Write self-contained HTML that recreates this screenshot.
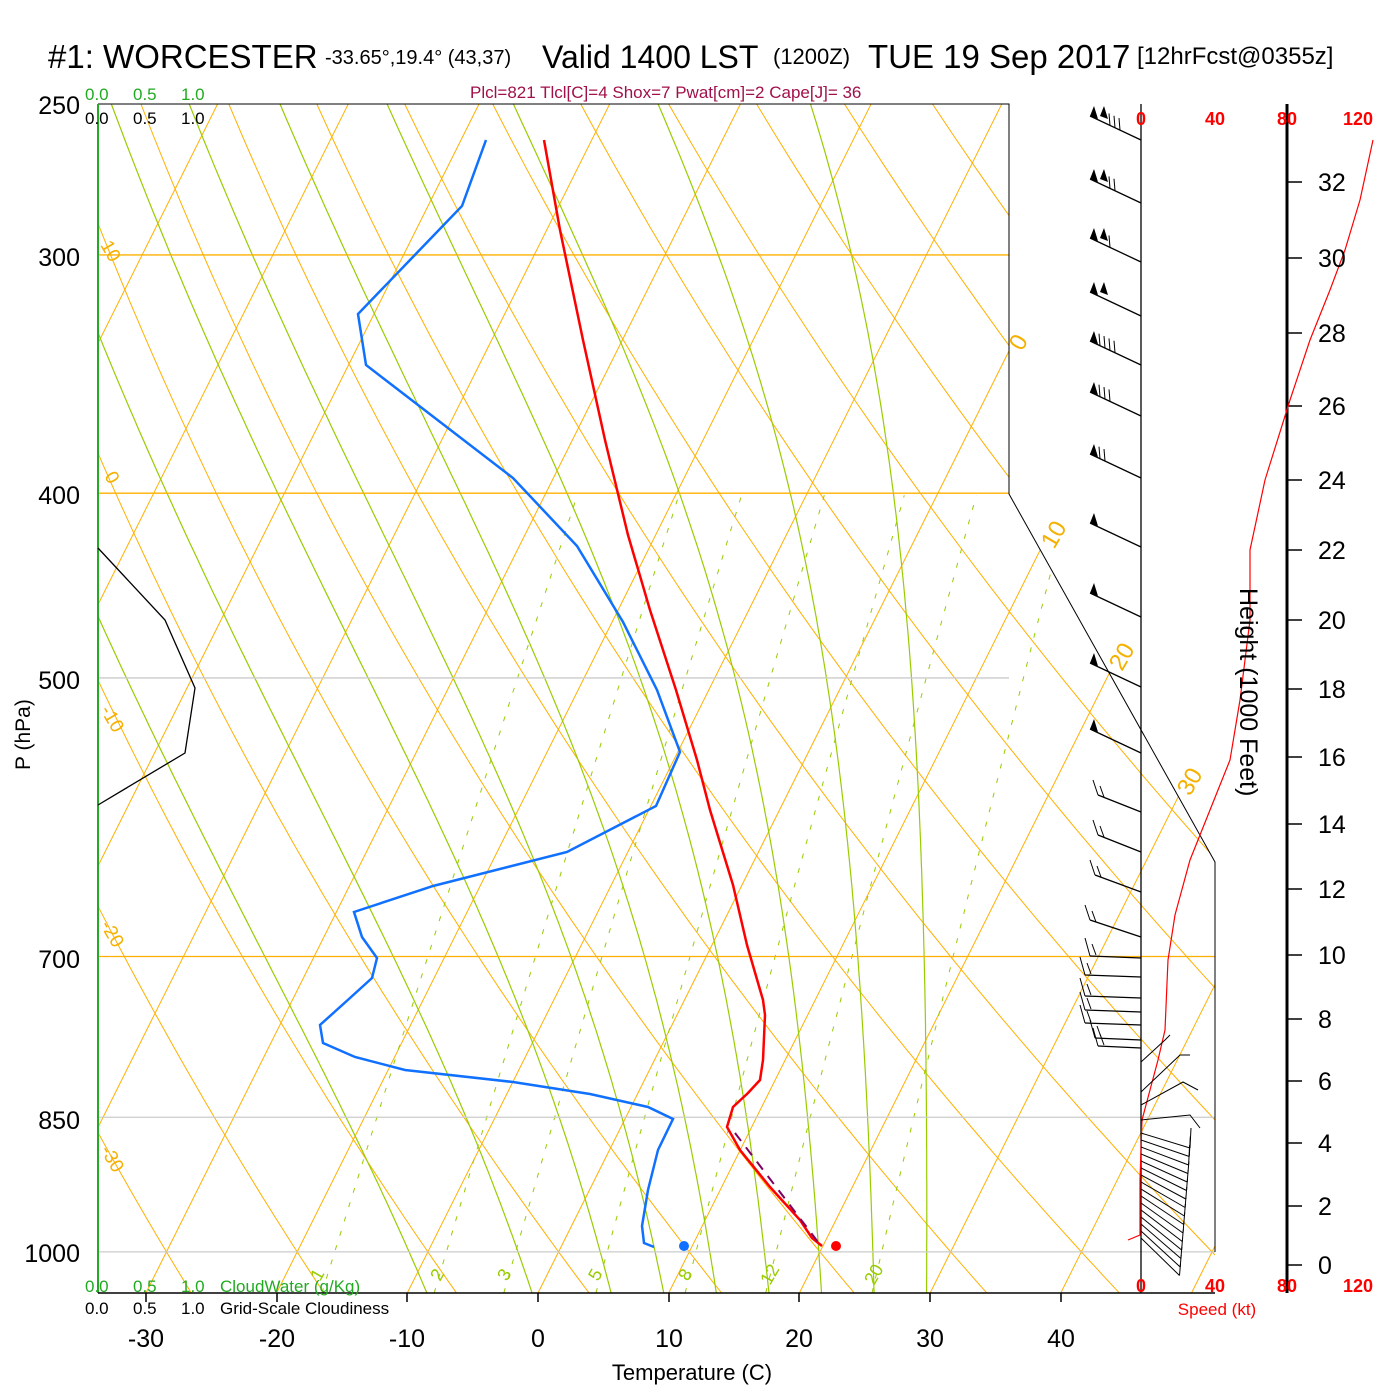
<!DOCTYPE html>
<html><head><meta charset="utf-8"><style>
html,body{margin:0;padding:0;background:#fff;}
svg{display:block;font-family:"Liberation Sans",sans-serif;}
</style></head><body>
<svg id="s" width="1400" height="1400" viewBox="0 0 1400 1400" xmlns="http://www.w3.org/2000/svg">
<defs><clipPath id="cp"><polygon points="98,104 1009,104 1009,494 1215,862 1215,1293 98,1293"/></clipPath></defs>
<g id="bg" clip-path="url(#cp)"></g>
<g id="fg"></g>
<text x="48" y="68" font-size="33">#1: WORCESTER</text>
<text x="325" y="64" font-size="20">-33.65°,19.4° (43,37)</text>
<text x="542" y="68" font-size="32">Valid 1400 LST</text>
<text x="773" y="64" font-size="22">(1200Z)</text>
<text x="868" y="68" font-size="33">TUE 19 Sep 2017</text>
<text x="1137" y="64" font-size="24">[12hrFcst@0355z]</text>
<text x="470" y="98" font-size="17" fill="#a0104a">Plcl=821 Tlcl[C]=4 Shox=7 Pwat[cm]=2 Cape[J]= 36</text>
<g font-size="17" fill="#22aa22"><text x="85" y="100">0.0</text><text x="133" y="100">0.5</text><text x="181" y="100">1.0</text>
<text x="85" y="1292">0.0</text><text x="133" y="1292">0.5</text><text x="181" y="1292">1.0</text><text x="220" y="1292">CloudWater (g/Kg)</text></g>
<g font-size="17"><text x="85" y="124">0.0</text><text x="133" y="124">0.5</text><text x="181" y="124">1.0</text>
<text x="85" y="1314">0.0</text><text x="133" y="1314">0.5</text><text x="181" y="1314">1.0</text><text x="220" y="1314">Grid-Scale Cloudiness</text></g>
<g font-size="25" text-anchor="end"><text x="80" y="114">250</text><text x="80" y="266">300</text><text x="80" y="504">400</text><text x="80" y="689">500</text><text x="80" y="968">700</text><text x="80" y="1129">850</text><text x="80" y="1262">1000</text></g>
<text transform="translate(30,770) rotate(-90)" font-size="21">P (hPa)</text>
<g font-size="25" text-anchor="middle"><text x="146" y="1347">-30</text><text x="277" y="1347">-20</text><text x="407" y="1347">-10</text><text x="538" y="1347">0</text><text x="669" y="1347">10</text><text x="799" y="1347">20</text><text x="930" y="1347">30</text><text x="1061" y="1347">40</text></g>
<text x="692" y="1380" font-size="22" text-anchor="middle">Temperature (C)</text>
<g font-size="18" fill="#f00" text-anchor="middle" font-weight="bold"><text x="1141" y="125">0</text><text x="1215" y="125">40</text><text x="1287" y="125">80</text><text x="1358" y="125">120</text>
<text x="1141" y="1292">0</text><text x="1215" y="1292">40</text><text x="1287" y="1292">80</text><text x="1358" y="1292">120</text></g>
<text x="1217" y="1315" font-size="17" fill="#f00" text-anchor="middle">Speed (kt)</text>
<g font-size="25"><text x="1318" y="191">32</text><text x="1318" y="267">30</text><text x="1318" y="342">28</text><text x="1318" y="415">26</text><text x="1318" y="489">24</text><text x="1318" y="559">22</text><text x="1318" y="629">20</text><text x="1318" y="698">18</text><text x="1318" y="766">16</text><text x="1318" y="833">14</text><text x="1318" y="898">12</text><text x="1318" y="964">10</text><text x="1318" y="1028">8</text><text x="1318" y="1090">6</text><text x="1318" y="1152">4</text><text x="1318" y="1215">2</text><text x="1318" y="1274">0</text></g>
<text transform="translate(1240,588) rotate(90)" font-size="25">Height (1000 Feet)</text>
<g font-size="24" fill="#f5b000"><text transform="translate(1022,352) rotate(-60)">0</text><text transform="translate(1054,550) rotate(-60)">10</text><text transform="translate(1122,672) rotate(-60)">20</text><text transform="translate(1190,797) rotate(-60)">30</text></g>
<g font-size="19" fill="#f5b000"><text transform="translate(100,245) rotate(60)">10</text><text transform="translate(104,476) rotate(60)">0</text><text transform="translate(100,710) rotate(60)">-10</text><text transform="translate(100,925) rotate(60)">-20</text><text transform="translate(100,1150) rotate(60)">-30</text></g>
<g font-size="18" fill="#99cc00"><text transform="translate(320,1282) rotate(-60)">1</text><text transform="translate(440,1282) rotate(-60)">2</text><text transform="translate(507,1282) rotate(-60)">3</text><text transform="translate(598,1282) rotate(-60)">5</text><text transform="translate(688,1282) rotate(-60)">8</text><text transform="translate(770,1286) rotate(-60)">12</text><text transform="translate(874,1286) rotate(-60)">20</text></g>
</svg>
<script>
var NS="http://www.w3.org/2000/svg";
function el(g,t,a){var e=document.createElementNS(NS,t);for(var k in a)e.setAttribute(k,a[k]);document.getElementById(g).appendChild(e);return e;}
function Y(p){return 104+828*Math.log(p/250);}
function X(T,p){return 538+13.07*T+0.5*(1293-Y(p));}
function path(g,pts,st){var d="M"+pts.map(function(q){return q[0].toFixed(1)+","+q[1].toFixed(1)}).join("L");st.d=d;st.fill="none";return el(g,"path",st);}
var OR="#ffb000",GR="#99cc00";
for(var T=-140;T<=60;T+=10){path("bg",[[X(T,1051),1293],[X(T,200),Y(200)]],{stroke:OR,"stroke-width":1});}
for(var th=-40;th<=200;th+=10){var pts=[];for(var p=1060;p>=240;p-=10){var t=(th+273.15)*Math.pow(p/1000,0.2857)-273.15;pts.push([X(t,p),Y(p)]);}path("bg",pts,{stroke:OR,"stroke-width":1});}
function es(t){return 6.112*Math.exp(17.67*t/(t+243.5));}
function dTdp(t,p){var T=t+273.15,e=es(t),r=0.622*e/(p-e),L=2.5e6,Rd=287,cp=1005;
 return (Rd*T/p+L*r/p)/(cp+L*L*r*0.622/(Rd*T*T));}
[-8,0,6,10,14,18,22,26,30].forEach(function(t0){var t=t0,pts=[];for(var p=1060;p>=250;p-=5){pts.push([X(t,p),Y(p)]);t-=dTdp(t,p)*5;}path("bg",pts,{stroke:GR,"stroke-width":1.2});});
[1,2,3,5,8,12,20].forEach(function(w){var pts=[];for(var p=1051;p>=400;p-=10){var e=w/1000*p/(0.622+w/1000),l=Math.log(e/6.112),t=243.5*l/(17.67-l);pts.push([X(t,p),Y(p)]);}path("bg",pts,{stroke:GR,"stroke-width":1,"stroke-dasharray":"5,10"});});
[[300,OR,1009],[400,OR,1009],[500,"#ccc",1009],[700,OR,1215],[850,"#ccc",1215],[1000,"#ccc",1215]].forEach(function(a){el("fg","line",{x1:98,x2:a[2],y1:Y(a[0]),y2:Y(a[0]),stroke:a[1],"stroke-width":1.3});});
el("fg","polyline",{points:"98,104 1009,104 1009,494 1215,862 1215,1252",fill:"none",stroke:"#000","stroke-width":1});
el("fg","line",{x1:98,y1:104,x2:98,y2:1293,stroke:"#22aa22","stroke-width":2});
el("fg","line",{x1:98,y1:1293,x2:1215,y2:1293,stroke:"#000","stroke-width":1.5});
[146,277,407,538,669,799,930,1061].forEach(function(x){el("fg","line",{x1:x,x2:x,y1:1293,y2:1302,stroke:"#000","stroke-width":1.5});});
el("fg","line",{x1:1141,x2:1141,y1:104,y2:1293,stroke:"#000","stroke-width":1.3});
el("fg","line",{x1:1287,x2:1287,y1:104,y2:1293,stroke:"#000","stroke-width":3});
[182,258,333,406,480,550,620,689,757,824,889,955,1019,1081,1143,1206,1265].forEach(function(y){el("fg","line",{x1:1287,x2:1302,y1:y,y2:y,stroke:"#000","stroke-width":1.5});});
el("fg","polyline",{points:"98,548 165,620 195,688 185,753 98,805",fill:"none",stroke:"#000","stroke-width":1.3});
el("fg","polyline",{points:"486,140 462,206 358,314 366,365 513,478 577,546 623,622 657,690 680,752 656,806 567,852 433,886 354,912 362,937 377,958 372,978 350,998 320,1025 323,1043 355,1057 405,1070 513,1082 590,1094 648,1107 673,1119 658,1150 648,1190 642,1226 644,1243 654,1247",fill:"none",stroke:"#1070ff","stroke-width":2.5});
el("fg","polyline",{points:"544,140 560,230 583,340 605,440 628,535 650,610 676,690 697,760 710,810 733,885 747,945 763,1000 765,1015 763,1060 760,1080 748,1093 733,1107 727,1127 740,1150 770,1187 800,1220 812,1238 822,1246",fill:"none",stroke:"#f00","stroke-width":2.5});
el("fg","line",{x1:735,y1:1133,x2:818,y2:1242,stroke:"#800060","stroke-width":2,"stroke-dasharray":"10,8"});
el("fg","circle",{cx:684,cy:1246,r:5,fill:"#1070ff"});
el("fg","circle",{cx:836,cy:1246,r:5,fill:"#f00"});
el("fg","polyline",{points:"1373,140 1360,200 1345,250 1330,290 1310,340 1290,400 1265,480 1250,550 1250,620 1240,700 1230,760 1210,810 1190,860 1175,915 1168,960 1165,1030 1158,1060 1150,1090 1142,1120 1140,1180 1140,1235 1128,1240",fill:"none",stroke:"#f00","stroke-width":1.2});
var up=[[140,2,3],[203,2,2],[262,2,1],[316,2,0],[365,1,4],[416,1,3],[478,1,2],[547,1,0],[617,1,0],[687,1,0],[753,1,0]];
up.forEach(function(b){var y=b[0],x0=1090,y0=y-24;el("fg","line",{x1:1141,y1:y,x2:x0,y2:y0,stroke:"#000","stroke-width":1.3});
 var x=x0;for(var i=0;i<b[1];i++){el("fg","polygon",{points:(x)+","+(y0)+" "+(x+4)+","+(y0-10)+" "+(x+8)+","+(y0+3),fill:"#000"});x+=10;}
 for(var j=0;j<b[2];j++){var yy=y0+(x-x0)*0.47;el("fg","line",{x1:x,y1:yy,x2:x-1,y2:yy-12,stroke:"#000"});x+=5;}});
[[800,1098],[840,1098],[880,1095],[925,1090],[958,1090],[977,1085],[998,1085],[1012,1085],[1025,1085],[1040,1095],[1048,1098]].forEach(function(b){var y=b[0];el("fg","line",{x1:1141,y1:y+(b[0]<940?12:0),x2:b[1],y2:y-(b[0]<940?5:2),stroke:"#000","stroke-width":1.3});el("fg","line",{x1:b[1],y1:y-(b[0]<940?5:2),x2:b[1]-5,y2:y-20,stroke:"#000"});el("fg","line",{x1:b[1]+6,y1:y-3,x2:b[1]+2,y2:y-14,stroke:"#000"});});
el("fg","polyline",{points:"1141,1062 1165,1040 1170,1035",fill:"none",stroke:"#000"});
el("fg","polyline",{points:"1141,1092 1180,1055 1190,1055",fill:"none",stroke:"#000"});
el("fg","polyline",{points:"1141,1105 1183,1082 1198,1090",fill:"none",stroke:"#000"});
el("fg","polyline",{points:"1141,1120 1190,1115 1200,1128",fill:"none",stroke:"#000"});
for(var i=0;i<16;i++){var y=1133+i*7,ex=1190-i*0.7,ey=1148+i*8.5;el("fg","line",{x1:1141,y1:y,x2:ex,y2:ey,stroke:"#000"});el("fg","line",{x1:ex,y1:ey,x2:ex+1,y2:ey-12-(i<3?8:0),stroke:"#000"});}
</script>
</body></html>
